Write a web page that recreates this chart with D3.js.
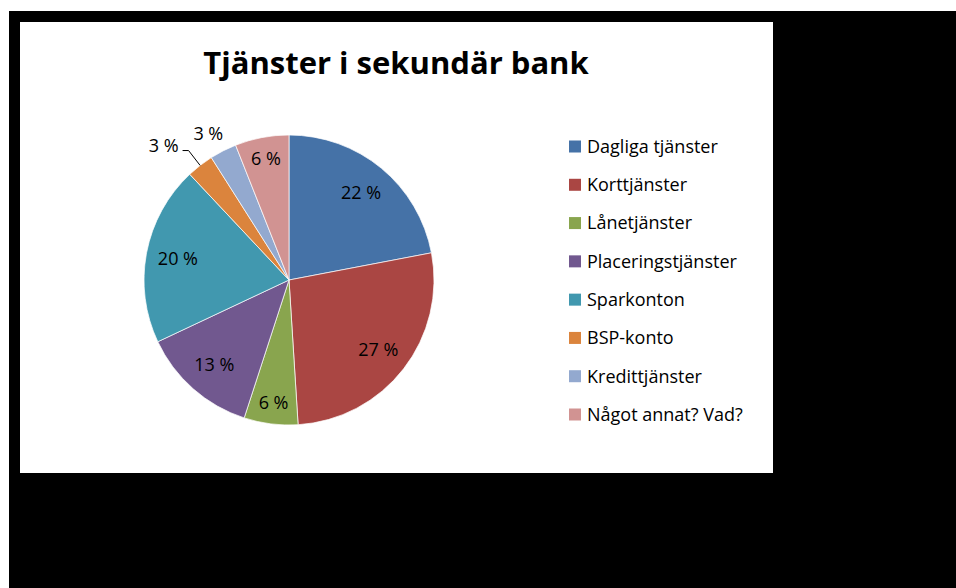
<!DOCTYPE html>
<html>
<head>
<meta charset="utf-8">
<script src="https://cdn.jsdelivr.net/npm/d3@7"></script>
<style>
  html, body { margin: 0; padding: 0; background: #fff; }
  svg { display: block; }
  text { font-family: "Open Sans", "Noto Sans", sans-serif; }
</style>
</head>
<body>
<svg id="chart" width="956" height="588"></svg>
<script>
// Survey: services used in the secondary bank (percent of respondents)
const categories = [
  "Dagliga tjänster",
  "Korttjänster",
  "Lånetjänster",
  "Placeringstjänster",
  "Sparkonton",
  "BSP-konto",
  "Kredittjänster",
  "Något annat? Vad?"
];
const shares = [22, 27, 6, 13, 20, 3, 3, 6];
const sliceColors = ["#4572A7", "#AA4643", "#89A54E", "#71588F", "#4198AF", "#DB843D", "#93A9CF", "#D19392"];
const chartTitle = "Tjänster i sekundär bank";

const svg = d3.select("#chart");

// frame and plot area
svg.append("rect").attr("x", 9).attr("y", 11).attr("width", 947).attr("height", 577).attr("fill", "#000");
svg.append("rect").attr("x", 20).attr("y", 22).attr("width", 753).attr("height", 451).attr("fill", "#fff");

svg.append("text")
  .attr("x", 396).attr("y", 74)
  .attr("text-anchor", "middle")
  .attr("font-size", 31).attr("font-weight", "bold")
  .attr("fill", "#000")
  .text(chartTitle);

const cx = 289, cy = 280, R = 145;
const data = categories.map((c, i) => ({ name: c, value: shares[i], color: sliceColors[i] }));

const pie = d3.pie().value(d => d.value).sort(null);
const arcs = pie(data);
const arc = d3.arc().innerRadius(0).outerRadius(R);

const g = svg.append("g").attr("transform", `translate(${cx},${cy})`);

g.selectAll("path.slice")
  .data(arcs)
  .join("path")
  .attr("class", "slice")
  .attr("d", arc)
  .attr("fill", d => d.data.color)
  .attr("stroke", "#fff")
  .attr("stroke-width", 0.7);

// point on a circle of radius r at the slice's middle angle
function polar(d, r) {
  const a = (d.startAngle + d.endAngle) / 2;
  return [r * Math.sin(a), -r * Math.cos(a)];
}
const fmt = d => `${d.data.value} %`;
// narrow wedges get their label pushed further out so it fits
const labelR = d => (d.endAngle - d.startAngle) < 0.5 ? R * 0.85 : R * 0.78;

// labels inside the larger slices
const inner = arcs.filter(d => d.data.value >= 5);
g.selectAll("text.inner")
  .data(inner)
  .join("text")
  .attr("class", "inner")
  .attr("x", d => polar(d, labelR(d))[0])
  .attr("y", d => polar(d, labelR(d))[1])
  .attr("dy", "0.35em")
  .attr("text-anchor", "middle")
  .attr("font-size", 18)
  .attr("fill", "#000")
  .text(fmt);

// small slices: labels outside
const small = arcs.filter(d => d.data.value < 5);
const bsp = small[0], kredit = small[1];

// BSP-konto label with leader line
{
  const p0 = polar(bsp, R * 1.0);
  const p1 = polar(bsp, R * 1.13);
  const p2 = [p1[0] - 6, p1[1]];
  g.append("path")
    .attr("d", d3.line()([p0, p1, p2]))
    .attr("fill", "none")
    .attr("stroke", "#000")
    .attr("stroke-width", 1);
  g.append("text")
    .attr("x", p2[0] - 4).attr("y", p2[1] + 1)
    .attr("text-anchor", "end")
    .attr("font-size", 18)
    .attr("fill", "#000")
    .text(fmt(bsp));
}
// Kredittjänster label
{
  const p = polar(kredit, R * 1.15);
  g.append("text")
    .attr("x", p[0] - 5).attr("y", p[1] + 2)
    .attr("dy", "0.35em")
    .attr("text-anchor", "middle")
    .attr("font-size", 18)
    .attr("fill", "#000")
    .text(fmt(kredit));
}

// legend
const legendY = d3.scalePoint().domain(categories).range([146.5, 414.5]);
const legend = svg.append("g");
const items = legend.selectAll("g")
  .data(data)
  .join("g")
  .attr("transform", d => `translate(569,${legendY(d.name)})`);
items.append("rect")
  .attr("x", 0).attr("y", -6)
  .attr("width", 12).attr("height", 12)
  .attr("fill", d => d.color);
items.append("text")
  .attr("x", 18).attr("y", 0)
  .attr("dy", "0.35em")
  .attr("font-size", 18)
  .attr("fill", "#000")
  .text(d => d.name);
</script>
</body>
</html>
